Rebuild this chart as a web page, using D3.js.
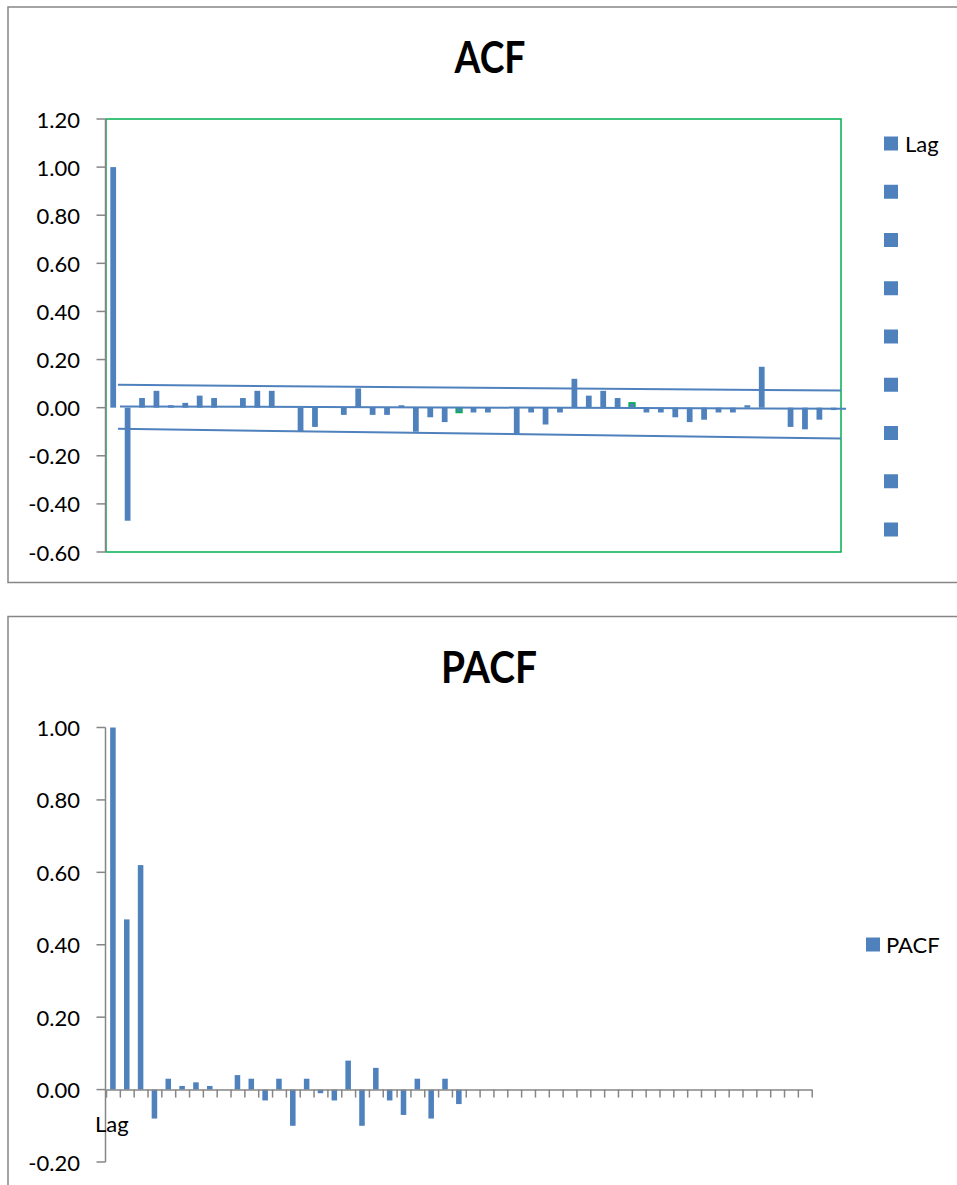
<!DOCTYPE html>
<html>
<head>
<meta charset="utf-8">
<script src="https://cdn.jsdelivr.net/npm/d3@7"></script>
<style>
  html, body { margin: 0; padding: 0; background: #fff; }
  svg { display: block; font-family: Lato, "Open Sans", sans-serif; }
  .tick-label { font-size: 22px; fill: #000; }
  .title { font-size: 44px; font-weight: 700; fill: #000; }
</style>
</head>
<body>
<div id="render-here"></div>
<script>
// lags 0..50
const lags = d3.range(51);

const acfValues = [1.00, -0.47, 0.04, 0.07, 0.01, 0.02, 0.05, 0.04, 0, 0.04, 0.07, 0.07, 0,
    -0.10, -0.08, 0, -0.03, 0.08, -0.03, -0.03, 0.01, -0.10, -0.04, -0.06, -0.02, -0.02, -0.02, 0,
    -0.11, -0.02, -0.07, -0.02, 0.12, 0.05, 0.07, 0.04, 0.02, -0.02, -0.02, -0.04, -0.06, -0.05,
    -0.02, -0.02, 0.01, 0.17, 0, -0.08, -0.09, -0.05, -0.01];
const acfHighlighted = [24, 36];

const pacfValues = [1.00, 0.47, 0.62, -0.08, 0.03, 0.01, 0.02, 0.01, 0, 0.04, 0.03, -0.03, 0.03,
    -0.10, 0.03, -0.01, -0.03, 0.08, -0.10, 0.06, -0.03, -0.07, 0.03, -0.08, 0.03, -0.04,
    0, 0, 0, 0, 0, 0, 0, 0, 0, 0, 0, 0, 0, 0, 0, 0, 0, 0, 0, 0, 0, 0, 0, 0, 0];

const acfTicks = [1.20, 1.00, 0.80, 0.60, 0.40, 0.20, 0.00, -0.20, -0.40, -0.60];
const pacfTicks = [1.00, 0.80, 0.60, 0.40, 0.20, 0.00, -0.20];

// hand drawn lines on the ACF chart: [lag position, value]
const upperBand = [[0.83, 0.095], [51, 0.071]];
const lowerBand = [[0.83, -0.088], [51, -0.128]];
const zeroLine = [[0.97, 0.005], [51.35, -0.004]];

const acfLegend = ['Lag', '', '', '', '', '', '', '', ''];
const pacfLegend = ['PACF'];

const blue = '#4F81BD';
const green = '#00B050';
const grey = '#868686';
const fmt = d3.formatLocale({decimal: '.', thousands: ',', grouping: [3], currency: ['', ''], minus: '-'}).format('.2f');

const svg = d3.select('#render-here').append('svg')
    .attr('width', 957)
    .attr('height', 1185);

function yAxis(g, y, ticks, x0){
    g.append('line')
        .attr('x1', x0).attr('x2', x0)
        .attr('y1', y(d3.max(ticks))).attr('y2', y(d3.min(ticks)))
        .attr('stroke', grey).attr('stroke-width', 1.5);
    const t = g.selectAll('.yt').data(ticks).enter().append('g').attr('class', 'yt');
    t.append('line')
        .attr('x1', x0 - 9).attr('x2', x0)
        .attr('y1', d => y(d)).attr('y2', d => y(d))
        .attr('stroke', grey).attr('stroke-width', 1.5);
    t.append('text')
        .attr('class', 'tick-label')
        .attr('x', 80)
        .attr('y', d => y(d) + 8.5)
        .attr('text-anchor', 'end')
        .text(d => fmt(d));
}

/* ---------- ACF ---------- */
{
    const g = svg.append('g');
    g.append('rect')
        .attr('x', 8).attr('y', 7).attr('width', 980).attr('height', 575.5)
        .attr('fill', 'none').attr('stroke', grey).attr('stroke-width', 1.5);

    g.append('text').attr('class', 'title')
        .attr('x', 490).attr('y', 73)
        .attr('text-anchor', 'middle')
        .attr('textLength', 71).attr('lengthAdjust', 'spacingAndGlyphs')
        .text('ACF');

    const x = d3.scaleBand().domain(lags).range([106, 841]).paddingInner(0.6).paddingOuter(0.3);
    const xLin = d3.scaleLinear().domain([0, lags.length]).range([106, 841]);
    const y = d3.scaleLinear().domain([-0.6, 1.2]).range([552, 119]);

    g.append('rect')
        .attr('x', 106).attr('y', y(1.2))
        .attr('width', 841 - 106).attr('height', y(-0.6) - y(1.2))
        .attr('fill', 'none').attr('stroke', green).attr('stroke-width', 1.5);

    yAxis(g, y, acfTicks, 105.5);

    g.selectAll('.bar').data(acfValues).enter().append('rect')
        .attr('class', 'bar')
        .attr('x', (d, i) => x(lags[i]))
        .attr('width', x.bandwidth())
        .attr('y', d => y(Math.max(0, d)))
        .attr('height', d => Math.abs(y(d) - y(0)))
        .attr('fill', blue)
        .attr('stroke', (d, i) => acfHighlighted.includes(i) ? green : 'none')
        .attr('stroke-width', 1.5);

    const line = d3.line().x(d => xLin(d[0])).y(d => y(d[1]));
    [upperBand, lowerBand, zeroLine].forEach(pts => {
        g.append('path')
            .attr('d', line(pts))
            .attr('fill', 'none')
            .attr('stroke', blue)
            .attr('stroke-width', 2);
    });

    const lg = g.selectAll('.lg').data(acfLegend).enter().append('g')
        .attr('class', 'lg')
        .attr('transform', (d, i) => `translate(884,${143.5 + i * 48.25})`);
    lg.append('rect').attr('x', 0).attr('y', -7).attr('width', 14).attr('height', 14).attr('fill', blue);
    lg.append('text').attr('class', 'tick-label').attr('x', 21).attr('y', 8).text(d => d);
}

/* ---------- PACF ---------- */
{
    const g = svg.append('g');
    g.append('rect')
        .attr('x', 8).attr('y', 616.5).attr('width', 980).attr('height', 600)
        .attr('fill', 'none').attr('stroke', grey).attr('stroke-width', 1.5);

    g.append('text').attr('class', 'title')
        .attr('x', 489).attr('y', 683)
        .attr('text-anchor', 'middle')
        .attr('textLength', 96).attr('lengthAdjust', 'spacingAndGlyphs')
        .text('PACF');

    const x = d3.scaleBand().domain(lags).range([106, 811.7]).paddingInner(0.6).paddingOuter(0.3);
    const xLin = d3.scaleLinear().domain([0, lags.length]).range([106, 811.7]);
    const y = d3.scaleLinear().domain([-0.2, 1.0]).range([1162, 727.5]);

    yAxis(g, y, pacfTicks, 105.5);

    g.selectAll('.bar').data(pacfValues).enter().append('rect')
        .attr('class', 'bar')
        .attr('x', (d, i) => x(lags[i]))
        .attr('width', x.bandwidth())
        .attr('y', d => y(Math.max(0, d)))
        .attr('height', d => Math.abs(y(d) - y(0)))
        .attr('fill', blue);

    // category axis at zero, ticks between categories
    const xa = g.append('g')
        .attr('transform', `translate(0,${y(0)})`)
        .call(d3.axisBottom(xLin).tickValues(d3.range(lags.length + 1)).tickSize(8).tickSizeOuter(0).tickFormat(''));
    xa.select('.domain').attr('stroke', grey).attr('stroke-width', 1.5);
    xa.selectAll('.tick line').attr('stroke', grey).attr('stroke-width', 1.5);

    g.append('text').attr('class', 'tick-label')
        .attr('x', 95).attr('y', 1132)
        .text('Lag');

    const lg = g.selectAll('.lg').data(pacfLegend).enter().append('g')
        .attr('class', 'lg')
        .attr('transform', 'translate(866,944.5)');
    lg.append('rect').attr('x', 0).attr('y', -7).attr('width', 14).attr('height', 14).attr('fill', blue);
    lg.append('text').attr('class', 'tick-label').attr('x', 20).attr('y', 8).text(d => d);
}
</script>
</body>
</html>
